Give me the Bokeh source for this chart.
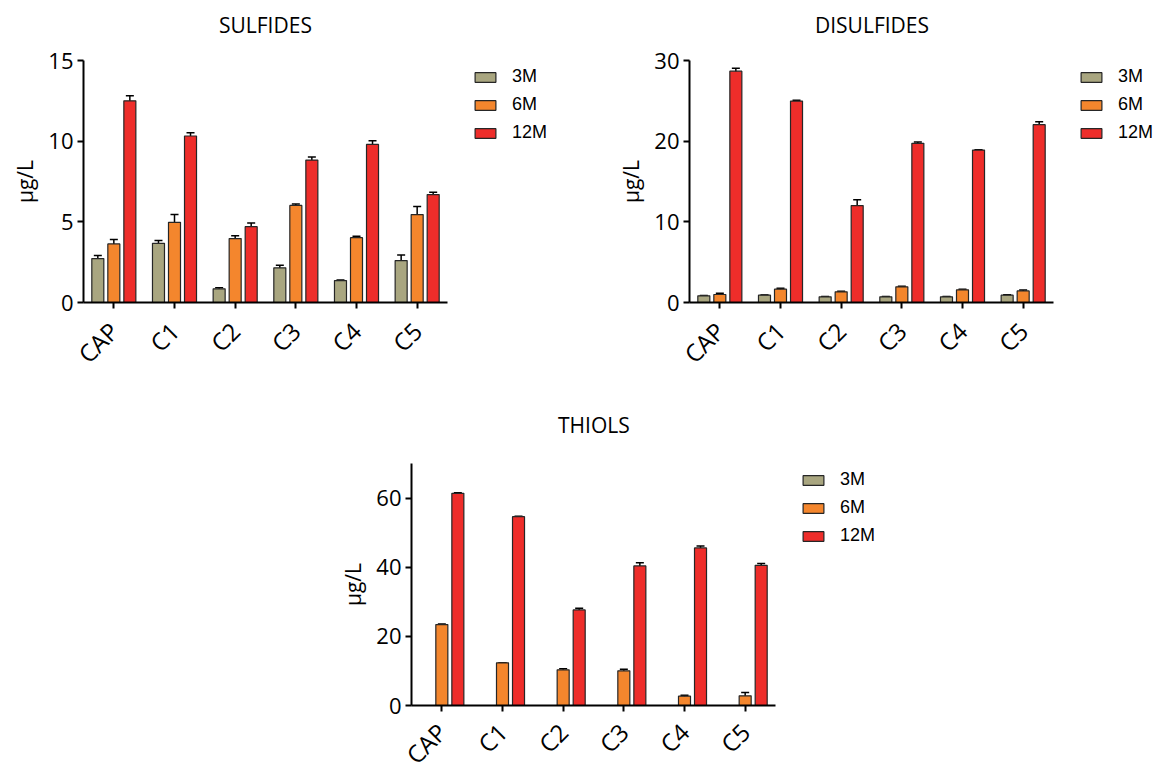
from math import pi
from bokeh.plotting import figure
from bokeh.models import (ColumnDataSource, Range1d, FixedTicker, Whisker, Title, LinearAxis,
                          TeeHead, Legend, LegendItem, Spacer)
from bokeh.transform import dodge
from bokeh.layouts import column, row
from bokeh.embed import file_html
from bokeh.resources import INLINE

# ---------------- data ----------------
categories = ["CAP", "C1", "C2", "C3", "C4", "C5"]
series = ["3M", "6M", "12M"]

sulf_3m = [2.72, 3.67, 0.85, 2.15, 1.36, 2.60]
sulf_3m_err = [0.20, 0.17, 0.06, 0.16, 0.04, 0.35]
sulf_6m = [3.63, 4.97, 3.96, 6.02, 4.02, 5.45]
sulf_6m_err = [0.28, 0.48, 0.18, 0.08, 0.08, 0.50]
sulf_12m = [12.50, 10.32, 4.70, 8.83, 9.80, 6.69]
sulf_12m_err = [0.32, 0.20, 0.22, 0.19, 0.22, 0.15]

disulf_3m = [0.83, 0.91, 0.70, 0.70, 0.70, 0.91]
disulf_3m_err = [0.05, 0.03, 0.03, 0.03, 0.03, 0.05]
disulf_6m = [0.99, 1.65, 1.32, 1.94, 1.57, 1.44]
disulf_6m_err = [0.17, 0.12, 0.08, 0.08, 0.08, 0.12]
disulf_12m = [28.68, 24.97, 12.01, 19.73, 18.90, 22.04]
disulf_12m_err = [0.37, 0.10, 0.74, 0.17, 0.05, 0.36]

thiol_3m = [0, 0, 0, 0, 0, 0]
thiol_3m_err = [0, 0, 0, 0, 0, 0]
thiol_6m = [23.41, 12.33, 10.31, 10.02, 2.70, 2.79]
thiol_6m_err = [0.15, 0.05, 0.30, 0.50, 0.30, 1.00]
thiol_12m = [61.37, 54.62, 27.65, 40.37, 45.57, 40.56]
thiol_12m_err = [0.20, 0.10, 0.50, 0.90, 0.55, 0.55]

sulf_ticks = [0, 5, 10, 15]
disulf_ticks = [0, 10, 20, 30]
thiol_ticks = [0, 20, 40, 60]

# ---------------- style ----------------
colors = ["#A9A680", "#F4862D", "#EE2D2A"]
offsets = [-0.264, 0.0, 0.264]
BAR_W = 0.198
FONT = "Open Sans"
AXIS_W, FRAME_H = 364, 242          # pixel length of the drawn x axis / frame height
N = len(categories)


def style_axis(ax):
    ax.axis_line_width = 2
    ax.axis_line_color = "black"
    ax.major_tick_line_width = 2
    ax.major_tick_line_color = "black"
    ax.major_tick_in = 0
    ax.major_tick_out = 6
    ax.minor_tick_line_color = None
    ax.major_label_text_font = FONT
    ax.major_label_text_color = "black"
    ax.major_label_standoff = 4


def make_chart(title, title_w, ymax, ticks, vals, errs, mbl, frame_w, mbt, mbb, xstand):
    xs = list(range(N))
    x_end = -0.5 + frame_w * N / AXIS_W
    p = figure(x_range=Range1d(-0.5, x_end), y_range=Range1d(0, ymax),
               frame_width=frame_w, frame_height=FRAME_H,
               min_border_left=mbl, min_border_right=0,
               min_border_top=mbt, min_border_bottom=mbb,
               output_backend="svg", toolbar_location=None,
               background_fill_color="white", border_fill_color="white")
    p.outline_line_color = None
    p.grid.grid_line_color = None

    xa = p.below[0]
    ya = p.left[0]
    style_axis(xa)
    style_axis(ya)

    items = []
    for k in range(3):
        src = ColumnDataSource(dict(xi=xs, val=vals[k],
                                    upper=[v + e for v, e in zip(vals[k], errs[k])],
                                    lower=[v - e for v, e in zip(vals[k], errs[k])]))
        r = p.vbar(x=dodge("xi", offsets[k]), top="val", bottom=0,
                   width=BAR_W, source=src, fill_color=colors[k],
                   line_color="#262626", line_width=1.2)
        items.append(LegendItem(label=series[k], renderers=[r]))
        keep = [i for i, v in enumerate(vals[k]) if v > 0]
        if keep:
            wsrc = ColumnDataSource(dict(xi=[xs[i] for i in keep],
                                         upper=[src.data["upper"][i] for i in keep],
                                         lower=[src.data["lower"][i] for i in keep]))
            w = Whisker(source=wsrc, base=dodge("xi", offsets[k]),
                        upper="upper", lower="lower", line_color="black", line_width=1.5,
                        upper_head=TeeHead(size=8, line_width=1.5, line_color="black"),
                        lower_head=TeeHead(size=8, line_width=1.5, line_color="black"))
            p.add_layout(w)

    # blank spacer band between frame and title: one white tick, no line, empty label
    gap = LinearAxis(ticker=FixedTicker(ticks=[0]), axis_line_color=None,
                     major_tick_out=mbt - 46, major_tick_in=0,
                     major_tick_line_color="white", major_label_standoff=0,
                     major_label_overrides={0: ""}, major_label_text_font_size="1px",
                     minor_tick_line_color=None)
    p.add_layout(gap, "above")

    t = Title(text=title, align="left", offset=AXIS_W / 2 - title_w / 2,
              text_font=FONT, text_font_size="21px", text_font_style="normal",
              text_color="black", standoff=15, vertical_align="bottom")
    p.add_layout(t, "above")

    xa.bounds = (-0.5, N - 0.5)
    xa.ticker = FixedTicker(ticks=xs)
    xa.major_label_overrides = {i: c for i, c in zip(xs, categories)}
    xa.major_label_orientation = pi / 4
    xa.major_label_text_font_size = "24px"
    xa.major_label_standoff = xstand
    ya.major_label_text_font_size = "22px"
    ya.ticker = FixedTicker(ticks=ticks)
    ya.axis_label = "μg/L"
    ya.axis_label_text_font = FONT
    ya.axis_label_text_font_size = "21px"
    ya.axis_label_text_font_style = "normal"
    ya.axis_label_text_color = "black"
    ya.axis_label_standoff = 6

    leg_h = 3 * 21 + 2 * 7
    leg_top = 6
    legend = Legend(items=items, location=(389, FRAME_H - leg_top - leg_h),
                    orientation="vertical",
                    glyph_width=26, glyph_height=12, label_standoff=14,
                    label_height=20, spacing=7, padding=0, margin=0,
                    border_line_color=None, background_fill_alpha=0,
                    label_text_font="Liberation Sans", label_text_font_size="18px",
                    label_text_color="black")
    p.add_layout(legend)
    return p


p1 = make_chart("SULFIDES", 93, 15, sulf_ticks,
                [sulf_3m, sulf_6m, sulf_12m], [sulf_3m_err, sulf_6m_err, sulf_12m_err],
                83, 517, 60, 98, 18)
p2 = make_chart("DISULFIDES", 113, 30, disulf_ticks,
                [disulf_3m, disulf_6m, disulf_12m],
                [disulf_3m_err, disulf_6m_err, disulf_12m_err],
                89, 469, 60, 98, 18)
p3 = make_chart("THIOLS", 71, 70, thiol_ticks,
                [thiol_3m, thiol_6m, thiol_12m], [thiol_3m_err, thiol_6m_err, thiol_12m_err],
                75, 517, 63, 58, 16)

layout = column(row(p1, p2), row(Spacer(width=336, height=10), p3))

open("out.html", "w").write(file_html(layout, INLINE))
